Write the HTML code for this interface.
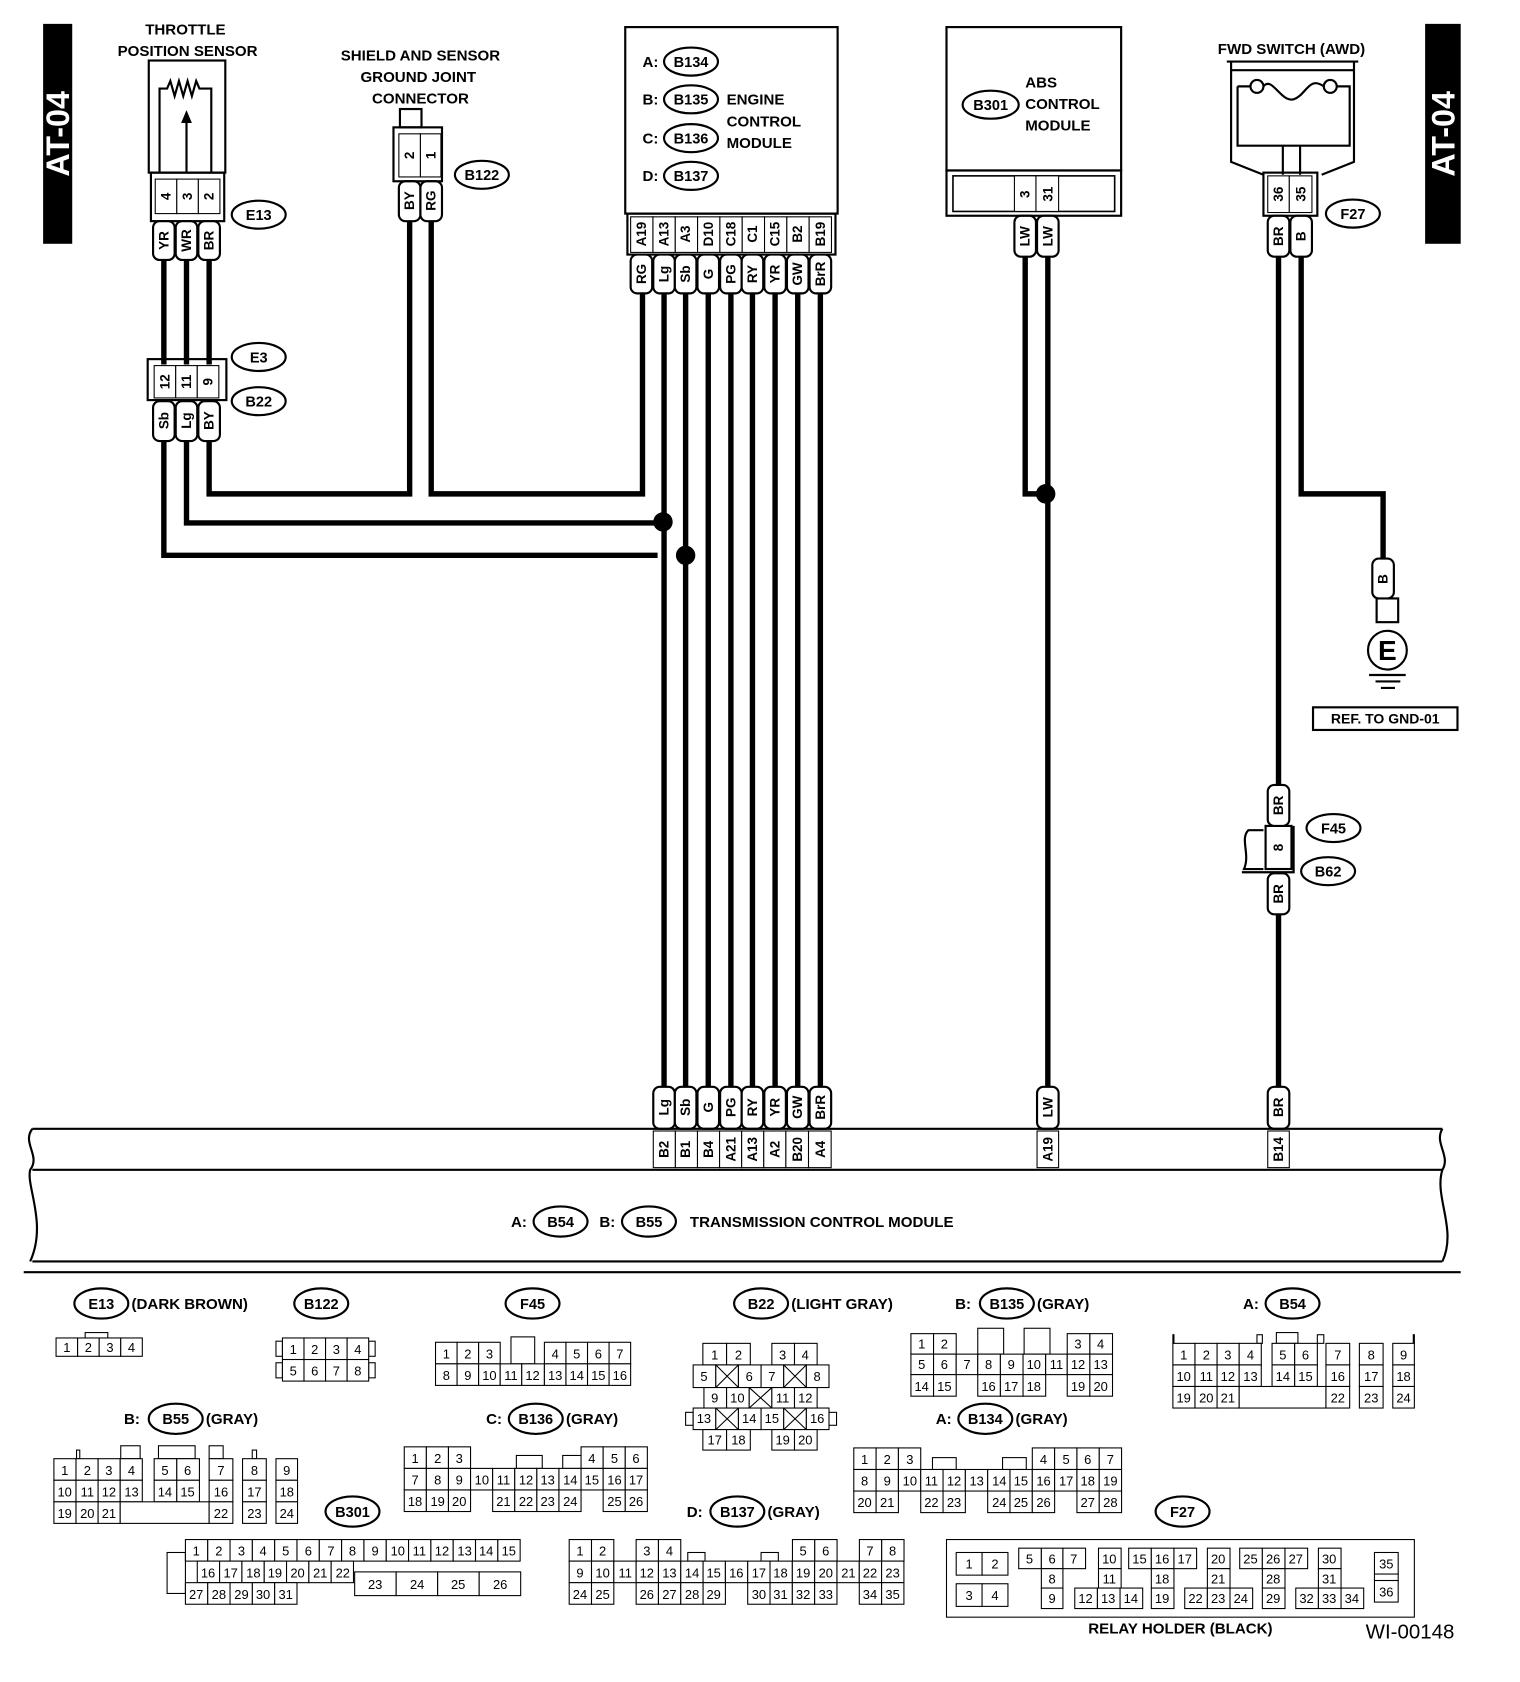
<!DOCTYPE html>
<html><head><meta charset="utf-8"><style>
html,body{margin:0;padding:0;background:#fff}
svg{display:block}
text{font-family:"Liberation Sans",sans-serif;fill:#000}
.t{font-weight:bold;font-size:14px}
.p{font-weight:bold;font-size:12.5px}
.n{font-size:12px}
.g rect{fill:#fff;stroke:#000;stroke-width:1}
.w{fill:none;stroke:#000;stroke-width:5}
.o{fill:none;stroke:#000;stroke-width:2}
.pl{fill:#fff;stroke:#000;stroke-width:2}
</style></head><body>
<svg width="1520" height="1682" viewBox="0 0 1410 1560" xmlns="http://www.w3.org/2000/svg">
<!-- side bars -->
<rect x="40" y="22" width="27" height="204" fill="#000"/>
<text transform="translate(54,124) rotate(-90)" text-anchor="middle" dominant-baseline="central" style="font-weight:bold;font-size:30px;fill:#fff">AT-04</text>
<rect x="1322" y="22" width="33" height="204" fill="#000"/>
<text transform="translate(1339,124) rotate(-90)" text-anchor="middle" dominant-baseline="central" style="font-weight:bold;font-size:30px;fill:#fff">AT-04</text>

<!-- wires -->
<g class="w">
<path d="M152,240V338M173,240V338M194,240V338"/>
<path d="M152,408V515H610M173,408V485H615M194,408V458H380V205M400,205V458H596V272"/>
<path d="M616,272V1008M636,272V1008M657,272V1008M678,272V1008M698,272V1008M719,272V1008M740,272V1008M761,272V1008"/>
<path d="M951,238V458H970M972,238V1008"/>
<path d="M1186,238V728M1186,848V1008M1207,238V458H1283V520"/>
</g>
<circle cx="615" cy="484" r="9"/><circle cx="636" cy="515" r="9"/><circle cx="970" cy="458" r="9"/>

<!-- throttle sensor -->
<text class="t" x="172" y="32" text-anchor="middle">THROTTLE</text>
<text class="t" x="174" y="52" text-anchor="middle">POSITION SENSOR</text>
<rect x="138" y="56" width="71" height="104" class="o"/>
<path class="o" d="M148,160V82H155L158,75L162,89L166,75L170,89L174,75L178,89L182,75L185,82H196V160"/>
<path class="o" d="M173,160V110"/><path d="M168,114L173,102L178,114Z"/>
<rect x="140" y="160" width="68" height="45" class="o"/>
<g class="g"><rect x="144" y="166" width="20" height="32"/><rect x="164" y="166" width="20" height="32"/><rect x="184" y="166" width="20" height="32"/></g>
<g class="p" text-anchor="middle" dominant-baseline="central">
<text transform="translate(154,182) rotate(-90)">4</text><text transform="translate(174,182) rotate(-90)">3</text><text transform="translate(194,182) rotate(-90)">2</text></g>
<!-- E3 / B22 -->
<rect x="137" y="333" width="73" height="38" class="o"/>
<g class="g"><rect x="143" y="339" width="20" height="30"/><rect x="163" y="339" width="20" height="30"/><rect x="183" y="339" width="20" height="30"/></g>
<g class="p" text-anchor="middle" dominant-baseline="central">
<text transform="translate(153,354) rotate(-90)">12</text><text transform="translate(173,354) rotate(-90)">11</text><text transform="translate(193,354) rotate(-90)">9</text></g>

<!-- B122 -->
<text class="t" x="390" y="56" text-anchor="middle">SHIELD AND SENSOR</text>
<text class="t" x="388" y="76" text-anchor="middle">GROUND JOINT</text>
<text class="t" x="390" y="96" text-anchor="middle">CONNECTOR</text>
<rect x="371" y="101" width="20" height="17" class="o"/>
<rect x="365" y="118" width="45" height="50" class="o"/>
<g class="g"><rect x="370" y="124" width="20" height="40"/><rect x="390" y="124" width="19" height="40"/></g>
<g class="p" text-anchor="middle" dominant-baseline="central">
<text transform="translate(380,144) rotate(-90)">2</text><text transform="translate(400,144) rotate(-90)">1</text></g>

<!-- ECM -->
<rect x="580" y="25" width="197" height="173" class="o"/>
<g class="t">
<text x="596" y="62">A:</text><text x="596" y="97">B:</text><text x="596" y="133">C:</text><text x="596" y="168">D:</text>
<text x="674" y="97">ENGINE</text><text x="674" y="117">CONTROL</text><text x="674" y="137">MODULE</text></g>
<rect x="582" y="198" width="193" height="38" class="o"/>
<g class="g">
<rect x="585" y="201" width="20.7" height="33"/><rect x="605.7" y="201" width="20.7" height="33"/><rect x="626.4" y="201" width="20.7" height="33"/><rect x="647.1" y="201" width="20.7" height="33"/><rect x="667.8" y="201" width="20.7" height="33"/><rect x="688.5" y="201" width="20.7" height="33"/><rect x="709.2" y="201" width="20.7" height="33"/><rect x="729.9" y="201" width="20.7" height="33"/><rect x="750.6" y="201" width="20.7" height="33"/></g>
<g class="p" text-anchor="middle" dominant-baseline="central">
<text transform="translate(595,217) rotate(-90)">A19</text><text transform="translate(616,217) rotate(-90)">A13</text><text transform="translate(636,217) rotate(-90)">A3</text><text transform="translate(657,217) rotate(-90)">D10</text><text transform="translate(678,217) rotate(-90)">C18</text><text transform="translate(698,217) rotate(-90)">C1</text><text transform="translate(719,217) rotate(-90)">C15</text><text transform="translate(740,217) rotate(-90)">B2</text><text transform="translate(761,217) rotate(-90)">B19</text></g>

<!-- ABS -->
<rect x="878" y="25" width="162" height="133" class="o"/>
<g class="t"><text x="951" y="81">ABS</text><text x="951" y="101">CONTROL</text><text x="951" y="121">MODULE</text></g>
<rect x="878" y="158" width="162" height="42" class="o"/>
<rect x="884" y="163" width="150" height="33" class="o" style="stroke-width:1.5"/>
<g class="g"><rect x="941" y="163" width="20" height="33"/><rect x="961" y="163" width="21" height="33"/></g>
<g class="p" text-anchor="middle" dominant-baseline="central">
<text transform="translate(951,180) rotate(-90)">3</text><text transform="translate(972,180) rotate(-90)">31</text></g>

<!-- FWD switch -->
<text class="t" x="1198" y="50" text-anchor="middle">FWD SWITCH (AWD)</text>
<path class="o" d="M1138,57H1260M1142,57V65H1256V57M1142,65V150L1172,162M1256,65V150L1226,162"/>
<path class="o" d="M1148,80V135H1252V80H1240M1148,80H1160M1190,135V162M1206,135V162"/>
<path class="o" d="M1172,80C1180,70 1188,95 1200,92C1212,88 1214,70 1228,80"/>
<circle cx="1166" cy="80" r="6" class="pl"/><circle cx="1234" cy="80" r="6" class="pl"/>
<rect x="1172" y="160" width="50" height="40" class="o"/>
<g class="g"><rect x="1176" y="163" width="20" height="34"/><rect x="1196" y="163" width="21" height="34"/></g>
<g class="p" text-anchor="middle" dominant-baseline="central">
<text transform="translate(1186,180) rotate(-90)">36</text><text transform="translate(1207,180) rotate(-90)">35</text></g>

<!-- ground -->
<rect x="1277" y="555" width="20" height="22" class="o"/>
<circle cx="1287" cy="603" r="18" class="pl"/>
<text x="1287" y="612" text-anchor="middle" style="font-weight:bold;font-size:26px">E</text>
<path d="M1270,626H1304M1276,632H1299M1281,638H1294" stroke="#000" stroke-width="2"/>
<rect x="1218" y="656" width="134" height="21" class="o"/>
<text class="t" x="1285" y="671" text-anchor="middle" style="font-size:13px">REF. TO GND-01</text>

<!-- F45/B62 -->
<path class="o" d="M1172,770H1158C1150,778 1160,792 1154,806H1172"/>
<path class="o" d="M1152,809H1200V766"/>
<rect x="1174" y="766" width="24" height="40" class="pl"/>
<text class="p" transform="translate(1186,786) rotate(-90)" text-anchor="middle" dominant-baseline="central">8</text>

<!-- pills -->
<g class="pl">
<rect x="142" y="205" width="20" height="36" rx="6"/><rect x="163" y="205" width="20" height="36" rx="6"/><rect x="184" y="205" width="20" height="36" rx="6"/>
<rect x="142" y="372" width="20" height="37" rx="6"/><rect x="163" y="372" width="20" height="37" rx="6"/><rect x="184" y="372" width="20" height="37" rx="6"/>
<rect x="370" y="168" width="20" height="37" rx="6"/><rect x="390" y="168" width="20" height="37" rx="6"/>
<rect x="585" y="236" width="20" height="36" rx="6"/><rect x="606" y="236" width="20" height="36" rx="6"/><rect x="626" y="236" width="20" height="36" rx="6"/><rect x="647" y="236" width="20" height="36" rx="6"/><rect x="668" y="236" width="20" height="36" rx="6"/><rect x="688" y="236" width="20" height="36" rx="6"/><rect x="709" y="236" width="20" height="36" rx="6"/><rect x="730" y="236" width="20" height="36" rx="6"/><rect x="751" y="236" width="20" height="36" rx="6"/>
<rect x="941" y="200" width="20" height="38" rx="6"/><rect x="962" y="200" width="20" height="38" rx="6"/>
<rect x="1176" y="200" width="20" height="38" rx="6"/><rect x="1197" y="200" width="20" height="38" rx="6"/>
<rect x="1273" y="518" width="20" height="37" rx="6"/>
<rect x="1176" y="728" width="20" height="38" rx="6"/><rect x="1176" y="810" width="20" height="38" rx="6"/>
<rect x="606" y="1008" width="20" height="39" rx="6"/><rect x="626" y="1008" width="20" height="39" rx="6"/><rect x="647" y="1008" width="20" height="39" rx="6"/><rect x="668" y="1008" width="20" height="39" rx="6"/><rect x="688" y="1008" width="20" height="39" rx="6"/><rect x="709" y="1008" width="20" height="39" rx="6"/><rect x="730" y="1008" width="20" height="39" rx="6"/><rect x="751" y="1008" width="20" height="39" rx="6"/>
<rect x="962" y="1008" width="20" height="39" rx="6"/><rect x="1176" y="1008" width="20" height="39" rx="6"/>
</g>
<g class="p" text-anchor="middle" dominant-baseline="central">
<text transform="translate(152,223) rotate(-90)">YR</text><text transform="translate(173,223) rotate(-90)">WR</text><text transform="translate(194,223) rotate(-90)">BR</text>
<text transform="translate(152,390) rotate(-90)">Sb</text><text transform="translate(173,390) rotate(-90)">Lg</text><text transform="translate(194,390) rotate(-90)">BY</text>
<text transform="translate(380,186) rotate(-90)">BY</text><text transform="translate(400,186) rotate(-90)">RG</text>
<text transform="translate(595,254) rotate(-90)">RG</text><text transform="translate(616,254) rotate(-90)">Lg</text><text transform="translate(636,254) rotate(-90)">Sb</text><text transform="translate(657,254) rotate(-90)">G</text><text transform="translate(678,254) rotate(-90)">PG</text><text transform="translate(698,254) rotate(-90)">RY</text><text transform="translate(719,254) rotate(-90)">YR</text><text transform="translate(740,254) rotate(-90)">GW</text><text transform="translate(761,254) rotate(-90)">BrR</text>
<text transform="translate(951,219) rotate(-90)">LW</text><text transform="translate(972,219) rotate(-90)">LW</text>
<text transform="translate(1186,219) rotate(-90)">BR</text><text transform="translate(1207,219) rotate(-90)">B</text>
<text transform="translate(1283,537) rotate(-90)">B</text>
<text transform="translate(1186,747) rotate(-90)">BR</text><text transform="translate(1186,829) rotate(-90)">BR</text>
<text transform="translate(616,1027) rotate(-90)">Lg</text><text transform="translate(636,1027) rotate(-90)">Sb</text><text transform="translate(657,1027) rotate(-90)">G</text><text transform="translate(678,1027) rotate(-90)">PG</text><text transform="translate(698,1027) rotate(-90)">RY</text><text transform="translate(719,1027) rotate(-90)">YR</text><text transform="translate(740,1027) rotate(-90)">GW</text><text transform="translate(761,1027) rotate(-90)">BrR</text>
<text transform="translate(972,1027) rotate(-90)">LW</text><text transform="translate(1186,1027) rotate(-90)">BR</text>
</g>

<!-- ellipses top -->
<g class="pl">
<ellipse cx="240" cy="199" rx="25" ry="13"/><ellipse cx="240" cy="331" rx="25" ry="13"/><ellipse cx="240" cy="372" rx="25" ry="13"/>
<ellipse cx="447" cy="162" rx="25" ry="13"/>
<ellipse cx="641" cy="57" rx="25" ry="13"/><ellipse cx="641" cy="92" rx="25" ry="13"/><ellipse cx="641" cy="128" rx="25" ry="13"/><ellipse cx="641" cy="163" rx="25" ry="13"/>
<ellipse cx="919" cy="97" rx="26" ry="13"/><ellipse cx="1255" cy="198" rx="25" ry="13"/>
<ellipse cx="1237" cy="768" rx="25" ry="13"/><ellipse cx="1232" cy="808" rx="25" ry="13"/>
<ellipse cx="520" cy="1133" rx="25" ry="14"/><ellipse cx="602" cy="1133" rx="25" ry="14"/>
</g>
<g class="p" text-anchor="middle" style="font-size:13.5px">
<text x="240" y="204">E13</text><text x="240" y="336">E3</text><text x="240" y="377">B22</text><text x="447" y="167">B122</text>
<text x="641" y="62">B134</text><text x="641" y="97">B135</text><text x="641" y="133">B136</text><text x="641" y="168">B137</text>
<text x="919" y="102">B301</text><text x="1255" y="203">F27</text><text x="1237" y="773">F45</text><text x="1232" y="813">B62</text>
<text x="520" y="1138">B54</text><text x="602" y="1138">B55</text></g>

<!-- TCM -->
<path class="o" d="M30,1047H1338M30,1085H1338M30,1170H1338"/>
<path class="o" d="M30,1047C20,1060 38,1072 28,1085C24,1100 44,1135 28,1170M1338,1047C1330,1060 1346,1072 1338,1085C1330,1110 1352,1140 1338,1170"/>
<g class="g">
<rect x="606" y="1049" width="20.5" height="34"/><rect x="626.5" y="1049" width="20.5" height="34"/><rect x="647" y="1049" width="20.5" height="34"/><rect x="667.5" y="1049" width="20.5" height="34"/><rect x="688" y="1049" width="20.5" height="34"/><rect x="708.5" y="1049" width="20.5" height="34"/><rect x="729" y="1049" width="21" height="34"/><rect x="750" y="1049" width="21" height="34"/>
<rect x="962" y="1049" width="20" height="34"/><rect x="1176" y="1049" width="20" height="34"/></g>
<g class="p" text-anchor="middle" dominant-baseline="central">
<text transform="translate(616,1066) rotate(-90)">B2</text><text transform="translate(636,1066) rotate(-90)">B1</text><text transform="translate(657,1066) rotate(-90)">B4</text><text transform="translate(678,1066) rotate(-90)">A21</text><text transform="translate(698,1066) rotate(-90)">A13</text><text transform="translate(719,1066) rotate(-90)">A2</text><text transform="translate(740,1066) rotate(-90)">B20</text><text transform="translate(761,1066) rotate(-90)">A4</text>
<text transform="translate(972,1066) rotate(-90)">A19</text><text transform="translate(1186,1066) rotate(-90)">B14</text></g>
<g class="t"><text x="474" y="1138">A:</text><text x="556" y="1138">B:</text><text x="640" y="1138">TRANSMISSION CONTROL MODULE</text></g>

<line x1="22" y1="1180" x2="1355" y2="1180" stroke="#000" stroke-width="2"/>

<!-- bottom labels -->
<g class="pl">
<ellipse cx="94" cy="1209" rx="25" ry="14"/><ellipse cx="298" cy="1209" rx="25" ry="14"/><ellipse cx="494" cy="1209" rx="25" ry="14"/><ellipse cx="706" cy="1209" rx="25" ry="14"/><ellipse cx="934" cy="1209" rx="25" ry="14"/><ellipse cx="1199" cy="1209" rx="25" ry="14"/>
<ellipse cx="163" cy="1316" rx="25" ry="14"/><ellipse cx="497" cy="1316" rx="25" ry="14"/><ellipse cx="914" cy="1316" rx="25" ry="14"/>
<ellipse cx="327" cy="1402" rx="25" ry="14"/><ellipse cx="684" cy="1402" rx="25" ry="14"/><ellipse cx="1097" cy="1402" rx="25" ry="14"/></g>
<g class="p" text-anchor="middle" style="font-size:13.5px">
<text x="94" y="1214">E13</text><text x="298" y="1214">B122</text><text x="494" y="1214">F45</text><text x="706" y="1214">B22</text><text x="934" y="1214">B135</text><text x="1199" y="1214">B54</text>
<text x="163" y="1321">B55</text><text x="497" y="1321">B136</text><text x="914" y="1321">B134</text>
<text x="327" y="1407">B301</text><text x="684" y="1407">B137</text><text x="1097" y="1407">F27</text></g>
<g class="t">
<text x="122" y="1214">(DARK BROWN)</text><text x="734" y="1214">(LIGHT GRAY)</text>
<text x="886" y="1214">B:</text><text x="962" y="1214">(GRAY)</text><text x="1153" y="1214">A:</text>
<text x="115" y="1321">B:</text><text x="191" y="1321">(GRAY)</text>
<text x="451" y="1321">C:</text><text x="525" y="1321">(GRAY)</text>
<text x="868" y="1321">A:</text><text x="942" y="1321">(GRAY)</text>
<text x="637" y="1407">D:</text><text x="712" y="1407">(GRAY)</text>
<text x="1095" y="1515" text-anchor="middle">RELAY HOLDER (BLACK)</text></g>
<text x="1308" y="1520" text-anchor="middle" style="font-size:19px">WI-00148</text>

<!-- grids -->
<g class="g">
<!-- E13 -->
<rect x="52" y="1241" width="20" height="17"/><rect x="72" y="1241" width="20" height="17"/><rect x="92" y="1241" width="20" height="17"/><rect x="112" y="1241" width="20" height="17"/><rect x="79" y="1236" width="21" height="5"/>
<!-- B122 -->
<rect x="256" y="1244" width="6" height="14"/><rect x="342" y="1244" width="6" height="14"/><rect x="256" y="1264" width="6" height="14"/><rect x="342" y="1264" width="6" height="14"/>
<rect x="262" y="1241" width="20" height="20"/><rect x="282" y="1241" width="20" height="20"/><rect x="302" y="1241" width="20" height="20"/><rect x="322" y="1241" width="20" height="20"/>
<rect x="262" y="1261" width="20" height="20"/><rect x="282" y="1261" width="20" height="20"/><rect x="302" y="1261" width="20" height="20"/><rect x="322" y="1261" width="20" height="20"/>
<!-- F45 -->
<rect x="404" y="1245" width="20" height="20"/><rect x="424" y="1245" width="20" height="20"/><rect x="444" y="1245" width="20" height="20"/><rect x="474" y="1240" width="22" height="25"/>
<rect x="505" y="1245" width="20" height="20"/><rect x="525" y="1245" width="20" height="20"/><rect x="545" y="1245" width="20" height="20"/><rect x="565" y="1245" width="20" height="20"/>
<rect x="404" y="1265" width="20" height="20"/><rect x="424" y="1265" width="20" height="20"/><rect x="444" y="1265" width="20" height="20"/><rect x="464" y="1265" width="20" height="20"/><rect x="484" y="1265" width="21" height="20"/><rect x="505" y="1265" width="20" height="20"/><rect x="525" y="1265" width="20" height="20"/><rect x="545" y="1265" width="20" height="20"/><rect x="565" y="1265" width="20" height="20"/>
<!-- B22 -->
<rect x="652" y="1246" width="22" height="20"/><rect x="674" y="1246" width="22" height="20"/><rect x="716" y="1246" width="21" height="20"/><rect x="737" y="1246" width="21" height="20"/>
<rect x="643" y="1266" width="21" height="21"/><rect x="664" y="1266" width="21" height="21"/><rect x="685" y="1266" width="21" height="21"/><rect x="706" y="1266" width="21" height="21"/><rect x="727" y="1266" width="21" height="21"/><rect x="748" y="1266" width="21" height="21"/>
<rect x="653" y="1287" width="21" height="19"/><rect x="674" y="1287" width="21" height="19"/><rect x="695" y="1287" width="21" height="19"/><rect x="716" y="1287" width="21" height="19"/><rect x="737" y="1287" width="21" height="19"/>
<rect x="636" y="1310" width="7" height="12"/><rect x="769" y="1310" width="7" height="12"/>
<rect x="643" y="1306" width="21" height="20"/><rect x="664" y="1306" width="21" height="20"/><rect x="685" y="1306" width="21" height="20"/><rect x="706" y="1306" width="21" height="20"/><rect x="727" y="1306" width="21" height="20"/><rect x="748" y="1306" width="21" height="20"/>
<rect x="652" y="1326" width="22" height="19"/><rect x="674" y="1326" width="22" height="19"/><rect x="716" y="1326" width="21" height="19"/><rect x="737" y="1326" width="21" height="19"/>
<!-- B135 -->
<rect x="845" y="1237" width="21" height="19"/><rect x="866" y="1237" width="21" height="19"/><rect x="907" y="1232" width="24" height="24"/><rect x="950" y="1232" width="24" height="24"/><rect x="990" y="1237" width="21" height="19"/><rect x="1011" y="1237" width="21" height="19"/>
<rect x="845" y="1256" width="21" height="19"/><rect x="866" y="1256" width="21" height="19"/><rect x="887" y="1256" width="20" height="19"/><rect x="907" y="1256" width="21" height="19"/><rect x="928" y="1256" width="21" height="19"/><rect x="949" y="1256" width="21" height="19"/><rect x="970" y="1256" width="20" height="19"/><rect x="990" y="1256" width="21" height="19"/><rect x="1011" y="1256" width="21" height="19"/>
<rect x="845" y="1275" width="21" height="20"/><rect x="866" y="1275" width="21" height="20"/><rect x="907" y="1275" width="21" height="20"/><rect x="928" y="1275" width="21" height="20"/><rect x="949" y="1275" width="21" height="20"/><rect x="990" y="1275" width="21" height="20"/><rect x="1011" y="1275" width="21" height="20"/>
<!-- B54 -->
<rect x="1088" y="1238" width="1" height="8"/><rect x="1166" y="1238" width="5" height="8"/><rect x="1184" y="1236" width="20" height="10"/><rect x="1222" y="1238" width="6" height="8"/><rect x="1311" y="1238" width="1" height="8"/>
<rect x="1088" y="1246" width="20.5" height="20"/><rect x="1108.5" y="1246" width="20.5" height="20"/><rect x="1129" y="1246" width="20.5" height="20"/><rect x="1149.5" y="1246" width="20.5" height="20"/><rect x="1180" y="1246" width="21" height="20"/><rect x="1201" y="1246" width="21" height="20"/><rect x="1230" y="1246" width="22" height="20"/><rect x="1261" y="1246" width="22" height="20"/><rect x="1292" y="1246" width="20" height="20"/>
<rect x="1088" y="1266" width="20.5" height="20"/><rect x="1108.5" y="1266" width="20.5" height="20"/><rect x="1129" y="1266" width="20.5" height="20"/><rect x="1149.5" y="1266" width="20.5" height="20"/><rect x="1180" y="1266" width="21" height="20"/><rect x="1201" y="1266" width="21" height="20"/><rect x="1230" y="1266" width="22" height="20"/><rect x="1261" y="1266" width="22" height="20"/><rect x="1292" y="1266" width="20" height="20"/>
<rect x="1088" y="1286" width="20.5" height="20"/><rect x="1108.5" y="1286" width="20.5" height="20"/><rect x="1129" y="1286" width="20.5" height="20"/><rect x="1149.5" y="1286" width="80.5" height="20"/><rect x="1230" y="1286" width="22" height="20"/><rect x="1261" y="1286" width="22" height="20"/><rect x="1292" y="1286" width="20" height="20"/>
<!-- B55 -->
<rect x="71" y="1345" width="3" height="8"/><rect x="112" y="1341" width="18" height="12"/><rect x="147" y="1341" width="34" height="12"/><rect x="194" y="1341" width="13" height="12"/><rect x="234" y="1345" width="4" height="8"/>
<rect x="50" y="1353" width="20.5" height="20"/><rect x="70.5" y="1353" width="20.5" height="20"/><rect x="91" y="1353" width="20.5" height="20"/><rect x="111.5" y="1353" width="20.5" height="20"/><rect x="143" y="1353" width="21" height="20"/><rect x="164" y="1353" width="21" height="20"/><rect x="194" y="1353" width="22" height="20"/><rect x="225" y="1353" width="22" height="20"/><rect x="256" y="1353" width="20" height="20"/>
<rect x="50" y="1373" width="20.5" height="20"/><rect x="70.5" y="1373" width="20.5" height="20"/><rect x="91" y="1373" width="20.5" height="20"/><rect x="111.5" y="1373" width="20.5" height="20"/><rect x="143" y="1373" width="21" height="20"/><rect x="164" y="1373" width="21" height="20"/><rect x="194" y="1373" width="22" height="20"/><rect x="225" y="1373" width="22" height="20"/><rect x="256" y="1373" width="20" height="20"/>
<rect x="50" y="1393" width="20.5" height="20"/><rect x="70.5" y="1393" width="20.5" height="20"/><rect x="91" y="1393" width="20.5" height="20"/><rect x="111.5" y="1393" width="82.5" height="20"/><rect x="194" y="1393" width="22" height="20"/><rect x="225" y="1393" width="22" height="20"/><rect x="256" y="1393" width="20" height="20"/>
<!-- B136 -->
<rect x="375" y="1342" width="20.5" height="20"/><rect x="395.5" y="1342" width="20.5" height="20"/><rect x="416" y="1342" width="20.5" height="20"/><rect x="479" y="1350" width="24" height="12"/><rect x="522" y="1350" width="24" height="12"/><rect x="539" y="1342" width="20.5" height="20"/><rect x="559.5" y="1342" width="20.5" height="20"/><rect x="580" y="1342" width="20.5" height="20"/>
<rect x="375" y="1362" width="20.5" height="20"/><rect x="395.5" y="1362" width="20.5" height="20"/><rect x="416" y="1362" width="20.5" height="20"/><rect x="436.5" y="1362" width="20.5" height="20"/><rect x="457" y="1362" width="20.5" height="20"/><rect x="477.5" y="1362" width="20.5" height="20"/><rect x="498" y="1362" width="20.5" height="20"/><rect x="518.5" y="1362" width="20.5" height="20"/><rect x="539" y="1362" width="20.5" height="20"/><rect x="559.5" y="1362" width="20.5" height="20"/><rect x="580" y="1362" width="20.5" height="20"/>
<rect x="375" y="1382" width="20.5" height="20"/><rect x="395.5" y="1382" width="20.5" height="20"/><rect x="416" y="1382" width="20.5" height="20"/><rect x="457" y="1382" width="20.5" height="20"/><rect x="477.5" y="1382" width="20.5" height="20"/><rect x="498" y="1382" width="20.5" height="20"/><rect x="518.5" y="1382" width="20.5" height="20"/><rect x="559.5" y="1382" width="20.5" height="20"/><rect x="580" y="1382" width="20.5" height="20"/>
<!-- B134 -->
<rect x="792" y="1343" width="20.7" height="20"/><rect x="812.7" y="1343" width="20.7" height="20"/><rect x="833.4" y="1343" width="20.7" height="20"/><rect x="865" y="1352" width="22" height="11"/><rect x="930" y="1352" width="22" height="11"/><rect x="957.6" y="1343" width="20.7" height="20"/><rect x="978.3" y="1343" width="20.7" height="20"/><rect x="999" y="1343" width="20.7" height="20"/><rect x="1019.7" y="1343" width="20.7" height="20"/>
<rect x="792" y="1363" width="20.7" height="20"/><rect x="812.7" y="1363" width="20.7" height="20"/><rect x="833.4" y="1363" width="20.7" height="20"/><rect x="854.1" y="1363" width="20.7" height="20"/><rect x="874.8" y="1363" width="20.7" height="20"/><rect x="895.5" y="1363" width="20.7" height="20"/><rect x="916.2" y="1363" width="20.7" height="20"/><rect x="936.9" y="1363" width="20.7" height="20"/><rect x="957.6" y="1363" width="20.7" height="20"/><rect x="978.3" y="1363" width="20.7" height="20"/><rect x="999" y="1363" width="20.7" height="20"/><rect x="1019.7" y="1363" width="20.7" height="20"/>
<rect x="792" y="1383" width="20.7" height="20"/><rect x="812.7" y="1383" width="20.7" height="20"/><rect x="854.1" y="1383" width="20.7" height="20"/><rect x="874.8" y="1383" width="20.7" height="20"/><rect x="916.2" y="1383" width="20.7" height="20"/><rect x="936.9" y="1383" width="20.7" height="20"/><rect x="957.6" y="1383" width="20.7" height="20"/><rect x="999" y="1383" width="20.7" height="20"/><rect x="1019.7" y="1383" width="20.7" height="20"/>
<!-- B301 -->
<rect x="155" y="1440" width="17" height="38"/>
<rect x="172" y="1428" width="20.7" height="20"/><rect x="192.7" y="1428" width="20.7" height="20"/><rect x="213.4" y="1428" width="20.7" height="20"/><rect x="234.1" y="1428" width="20.7" height="20"/><rect x="254.8" y="1428" width="20.7" height="20"/><rect x="275.5" y="1428" width="20.7" height="20"/><rect x="296.2" y="1428" width="20.7" height="20"/><rect x="316.9" y="1428" width="20.7" height="20"/><rect x="337.6" y="1428" width="20.7" height="20"/><rect x="358.3" y="1428" width="20.7" height="20"/><rect x="379" y="1428" width="20.7" height="20"/><rect x="399.7" y="1428" width="20.7" height="20"/><rect x="420.4" y="1428" width="20.7" height="20"/><rect x="441.1" y="1428" width="20.7" height="20"/><rect x="461.8" y="1428" width="20.7" height="20"/>
<rect x="183" y="1448" width="20.7" height="20"/><rect x="203.7" y="1448" width="20.7" height="20"/><rect x="224.4" y="1448" width="20.7" height="20"/><rect x="245.1" y="1448" width="20.7" height="20"/><rect x="265.8" y="1448" width="20.7" height="20"/><rect x="286.5" y="1448" width="20.7" height="20"/><rect x="307.2" y="1448" width="20.7" height="20"/>
<rect x="329" y="1458" width="38.5" height="22"/><rect x="367.5" y="1458" width="38.5" height="22"/><rect x="406" y="1458" width="38.5" height="22"/><rect x="444.5" y="1458" width="38.5" height="22"/>
<rect x="172" y="1468" width="20.7" height="20"/><rect x="192.7" y="1468" width="20.7" height="20"/><rect x="213.4" y="1468" width="20.7" height="20"/><rect x="234.1" y="1468" width="20.7" height="20"/><rect x="254.8" y="1468" width="20.7" height="20"/>
<!-- B137 -->
<rect x="528" y="1428" width="20.7" height="20"/><rect x="548.7" y="1428" width="20.7" height="20"/><rect x="590.1" y="1428" width="20.7" height="20"/><rect x="610.8" y="1428" width="20.7" height="20"/><rect x="638" y="1440" width="16" height="8"/><rect x="706" y="1440" width="16" height="8"/><rect x="735.1" y="1428" width="20.7" height="20"/><rect x="755.8" y="1428" width="20.7" height="20"/><rect x="797.2" y="1428" width="20.7" height="20"/><rect x="817.9" y="1428" width="20.7" height="20"/>
<rect x="528" y="1448" width="20.7" height="20"/><rect x="548.7" y="1448" width="20.7" height="20"/><rect x="569.4" y="1448" width="20.7" height="20"/><rect x="590.1" y="1448" width="20.7" height="20"/><rect x="610.8" y="1448" width="20.7" height="20"/><rect x="631.5" y="1448" width="20.7" height="20"/><rect x="652.2" y="1448" width="20.7" height="20"/><rect x="672.9" y="1448" width="20.7" height="20"/><rect x="693.6" y="1448" width="20.7" height="20"/><rect x="714.3" y="1448" width="20.7" height="20"/><rect x="735" y="1448" width="20.7" height="20"/><rect x="755.7" y="1448" width="20.7" height="20"/><rect x="776.4" y="1448" width="20.7" height="20"/><rect x="797.1" y="1448" width="20.7" height="20"/><rect x="817.8" y="1448" width="20.7" height="20"/>
<rect x="528" y="1468" width="20.7" height="20"/><rect x="548.7" y="1468" width="20.7" height="20"/><rect x="590.1" y="1468" width="20.7" height="20"/><rect x="610.8" y="1468" width="20.7" height="20"/><rect x="631.5" y="1468" width="20.7" height="20"/><rect x="652.2" y="1468" width="20.7" height="20"/><rect x="693.6" y="1468" width="20.7" height="20"/><rect x="714.3" y="1468" width="20.7" height="20"/><rect x="735" y="1468" width="20.7" height="20"/><rect x="755.7" y="1468" width="20.7" height="20"/><rect x="797.1" y="1468" width="20.7" height="20"/><rect x="817.8" y="1468" width="20.7" height="20"/>
<!-- F27 -->
<rect x="878" y="1428" width="434" height="72"/>
<rect x="887" y="1440" width="24" height="21"/><rect x="911" y="1440" width="24" height="21"/><rect x="887" y="1469" width="24" height="21"/><rect x="911" y="1469" width="24" height="21"/>
<rect x="945" y="1436" width="21" height="19"/><rect x="966" y="1436" width="20" height="19"/><rect x="986" y="1436" width="21" height="19"/><rect x="966" y="1455" width="20" height="18"/><rect x="966" y="1473" width="20" height="19"/>
<rect x="1019" y="1436" width="21" height="19"/><rect x="1019" y="1455" width="21" height="18"/><rect x="997" y="1473" width="21" height="19"/><rect x="1018" y="1473" width="21" height="19"/><rect x="1039" y="1473" width="21" height="19"/>
<rect x="1047" y="1436" width="21" height="19"/><rect x="1068" y="1436" width="21" height="19"/><rect x="1089" y="1436" width="21" height="19"/><rect x="1068" y="1455" width="21" height="18"/><rect x="1068" y="1473" width="21" height="19"/>
<rect x="1120" y="1436" width="21" height="19"/><rect x="1120" y="1455" width="21" height="18"/><rect x="1099" y="1473" width="21" height="19"/><rect x="1120" y="1473" width="21" height="19"/><rect x="1141" y="1473" width="21" height="19"/>
<rect x="1150" y="1436" width="21" height="19"/><rect x="1171" y="1436" width="21" height="19"/><rect x="1192" y="1436" width="21" height="19"/><rect x="1171" y="1455" width="21" height="18"/><rect x="1171" y="1473" width="21" height="19"/>
<rect x="1223" y="1436" width="21" height="19"/><rect x="1223" y="1455" width="21" height="18"/><rect x="1202" y="1473" width="21" height="19"/><rect x="1223" y="1473" width="21" height="19"/><rect x="1244" y="1473" width="21" height="19"/>
<rect x="1275" y="1440" width="22" height="20"/><rect x="1275" y="1460" width="22" height="6"/><rect x="1275" y="1466" width="22" height="20"/>
</g>
<!-- B22 crosses -->
<path d="M664,1266L685,1287M685,1266L664,1287M727,1266L748,1287M748,1266L727,1287M695,1287L716,1306M716,1287L695,1306M664,1306L685,1326M685,1306L664,1326M727,1306L748,1326M748,1306L727,1326" stroke="#000" stroke-width="1"/>

<g class="n" text-anchor="middle">
<!-- E13 -->
<text x="62" y="1254">1</text><text x="82" y="1254">2</text><text x="102" y="1254">3</text><text x="122" y="1254">4</text>
<!-- B122 -->
<text x="272" y="1256">1</text><text x="292" y="1256">2</text><text x="312" y="1256">3</text><text x="332" y="1256">4</text>
<text x="272" y="1276">5</text><text x="292" y="1276">6</text><text x="312" y="1276">7</text><text x="332" y="1276">8</text>
<!-- F45 -->
<text x="414" y="1260">1</text><text x="434" y="1260">2</text><text x="454" y="1260">3</text><text x="515" y="1260">4</text><text x="535" y="1260">5</text><text x="555" y="1260">6</text><text x="575" y="1260">7</text>
<text x="414" y="1280">8</text><text x="434" y="1280">9</text><text x="454" y="1280">10</text><text x="474" y="1280">11</text><text x="494" y="1280">12</text><text x="515" y="1280">13</text><text x="535" y="1280">14</text><text x="555" y="1280">15</text><text x="575" y="1280">16</text>
<!-- B22 -->
<text x="663" y="1261">1</text><text x="685" y="1261">2</text><text x="726" y="1261">3</text><text x="747" y="1261">4</text>
<text x="653" y="1281">5</text><text x="695" y="1281">6</text><text x="716" y="1281">7</text><text x="758" y="1281">8</text>
<text x="663" y="1301">9</text><text x="684" y="1301">10</text><text x="726" y="1301">11</text><text x="747" y="1301">12</text>
<text x="653" y="1320">13</text><text x="695" y="1320">14</text><text x="716" y="1320">15</text><text x="758" y="1320">16</text>
<text x="663" y="1340">17</text><text x="685" y="1340">18</text><text x="726" y="1340">19</text><text x="747" y="1340">20</text>
<!-- B135 -->
<text x="855" y="1251">1</text><text x="876" y="1251">2</text><text x="1000" y="1251">3</text><text x="1021" y="1251">4</text>
<text x="855" y="1270">5</text><text x="876" y="1270">6</text><text x="897" y="1270">7</text><text x="917" y="1270">8</text><text x="938" y="1270">9</text><text x="959" y="1270">10</text><text x="980" y="1270">11</text><text x="1000" y="1270">12</text><text x="1021" y="1270">13</text>
<text x="855" y="1290">14</text><text x="876" y="1290">15</text><text x="917" y="1290">16</text><text x="938" y="1290">17</text><text x="959" y="1290">18</text><text x="1000" y="1290">19</text><text x="1021" y="1290">20</text>
<!-- B54 -->
<text x="1098" y="1261">1</text><text x="1119" y="1261">2</text><text x="1139" y="1261">3</text><text x="1160" y="1261">4</text><text x="1190" y="1261">5</text><text x="1211" y="1261">6</text><text x="1241" y="1261">7</text><text x="1272" y="1261">8</text><text x="1302" y="1261">9</text>
<text x="1098" y="1281">10</text><text x="1119" y="1281">11</text><text x="1139" y="1281">12</text><text x="1160" y="1281">13</text><text x="1190" y="1281">14</text><text x="1211" y="1281">15</text><text x="1241" y="1281">16</text><text x="1272" y="1281">17</text><text x="1302" y="1281">18</text>
<text x="1098" y="1301">19</text><text x="1119" y="1301">20</text><text x="1139" y="1301">21</text><text x="1241" y="1301">22</text><text x="1272" y="1301">23</text><text x="1302" y="1301">24</text>
<!-- B55 -->
<text x="60" y="1368">1</text><text x="81" y="1368">2</text><text x="101" y="1368">3</text><text x="122" y="1368">4</text><text x="153" y="1368">5</text><text x="174" y="1368">6</text><text x="205" y="1368">7</text><text x="236" y="1368">8</text><text x="266" y="1368">9</text>
<text x="60" y="1388">10</text><text x="81" y="1388">11</text><text x="101" y="1388">12</text><text x="122" y="1388">13</text><text x="153" y="1388">14</text><text x="174" y="1388">15</text><text x="205" y="1388">16</text><text x="236" y="1388">17</text><text x="266" y="1388">18</text>
<text x="60" y="1408">19</text><text x="81" y="1408">20</text><text x="101" y="1408">21</text><text x="205" y="1408">22</text><text x="236" y="1408">23</text><text x="266" y="1408">24</text>
<!-- B136 -->
<text x="385" y="1357">1</text><text x="406" y="1357">2</text><text x="426" y="1357">3</text><text x="549" y="1357">4</text><text x="570" y="1357">5</text><text x="590" y="1357">6</text>
<text x="385" y="1377">7</text><text x="406" y="1377">8</text><text x="426" y="1377">9</text><text x="447" y="1377">10</text><text x="467" y="1377">11</text><text x="488" y="1377">12</text><text x="508" y="1377">13</text><text x="529" y="1377">14</text><text x="549" y="1377">15</text><text x="570" y="1377">16</text><text x="590" y="1377">17</text>
<text x="385" y="1397">18</text><text x="406" y="1397">19</text><text x="426" y="1397">20</text><text x="467" y="1397">21</text><text x="488" y="1397">22</text><text x="508" y="1397">23</text><text x="529" y="1397">24</text><text x="570" y="1397">25</text><text x="590" y="1397">26</text>
<!-- B134 -->
<text x="802" y="1358">1</text><text x="823" y="1358">2</text><text x="844" y="1358">3</text><text x="968" y="1358">4</text><text x="989" y="1358">5</text><text x="1009" y="1358">6</text><text x="1030" y="1358">7</text>
<text x="802" y="1378">8</text><text x="823" y="1378">9</text><text x="844" y="1378">10</text><text x="864" y="1378">11</text><text x="885" y="1378">12</text><text x="906" y="1378">13</text><text x="927" y="1378">14</text><text x="947" y="1378">15</text><text x="968" y="1378">16</text><text x="989" y="1378">17</text><text x="1009" y="1378">18</text><text x="1030" y="1378">19</text>
<text x="802" y="1398">20</text><text x="823" y="1398">21</text><text x="864" y="1398">22</text><text x="885" y="1398">23</text><text x="927" y="1398">24</text><text x="947" y="1398">25</text><text x="968" y="1398">26</text><text x="1009" y="1398">27</text><text x="1030" y="1398">28</text>
<!-- B301 -->
<text x="182" y="1443">1</text><text x="203" y="1443">2</text><text x="224" y="1443">3</text><text x="244" y="1443">4</text><text x="265" y="1443">5</text><text x="286" y="1443">6</text><text x="307" y="1443">7</text><text x="327" y="1443">8</text><text x="348" y="1443">9</text><text x="369" y="1443">10</text><text x="389" y="1443">11</text><text x="410" y="1443">12</text><text x="431" y="1443">13</text><text x="451" y="1443">14</text><text x="472" y="1443">15</text>
<text x="193" y="1463">16</text><text x="214" y="1463">17</text><text x="235" y="1463">18</text><text x="255" y="1463">19</text><text x="276" y="1463">20</text><text x="297" y="1463">21</text><text x="318" y="1463">22</text>
<text x="348" y="1474">23</text><text x="387" y="1474">24</text><text x="425" y="1474">25</text><text x="464" y="1474">26</text>
<text x="182" y="1483">27</text><text x="203" y="1483">28</text><text x="224" y="1483">29</text><text x="244" y="1483">30</text><text x="265" y="1483">31</text>
<!-- B137 -->
<text x="538" y="1443">1</text><text x="559" y="1443">2</text><text x="600" y="1443">3</text><text x="621" y="1443">4</text><text x="745" y="1443">5</text><text x="766" y="1443">6</text><text x="807" y="1443">7</text><text x="828" y="1443">8</text>
<text x="538" y="1463">9</text><text x="559" y="1463">10</text><text x="580" y="1463">11</text><text x="600" y="1463">12</text><text x="621" y="1463">13</text><text x="642" y="1463">14</text><text x="662" y="1463">15</text><text x="683" y="1463">16</text><text x="704" y="1463">17</text><text x="724" y="1463">18</text><text x="745" y="1463">19</text><text x="766" y="1463">20</text><text x="787" y="1463">21</text><text x="807" y="1463">22</text><text x="828" y="1463">23</text>
<text x="538" y="1483">24</text><text x="559" y="1483">25</text><text x="600" y="1483">26</text><text x="621" y="1483">27</text><text x="642" y="1483">28</text><text x="662" y="1483">29</text><text x="704" y="1483">30</text><text x="724" y="1483">31</text><text x="745" y="1483">32</text><text x="766" y="1483">33</text><text x="807" y="1483">34</text><text x="828" y="1483">35</text>
<!-- F27 -->
<text x="899" y="1455">1</text><text x="923" y="1455">2</text><text x="899" y="1484">3</text><text x="923" y="1484">4</text>
<text x="955" y="1450">5</text><text x="976" y="1450">6</text><text x="996" y="1450">7</text><text x="976" y="1469">8</text><text x="976" y="1487">9</text>
<text x="1029" y="1450">10</text><text x="1029" y="1469">11</text><text x="1007" y="1487">12</text><text x="1028" y="1487">13</text><text x="1049" y="1487">14</text>
<text x="1057" y="1450">15</text><text x="1078" y="1450">16</text><text x="1099" y="1450">17</text><text x="1078" y="1469">18</text><text x="1078" y="1487">19</text>
<text x="1130" y="1450">20</text><text x="1130" y="1469">21</text><text x="1109" y="1487">22</text><text x="1130" y="1487">23</text><text x="1151" y="1487">24</text>
<text x="1160" y="1450">25</text><text x="1181" y="1450">26</text><text x="1202" y="1450">27</text><text x="1181" y="1469">28</text><text x="1181" y="1487">29</text>
<text x="1233" y="1450">30</text><text x="1233" y="1469">31</text><text x="1212" y="1487">32</text><text x="1233" y="1487">33</text><text x="1254" y="1487">34</text>
<text x="1286" y="1455">35</text><text x="1286" y="1481">36</text>
</g>
</svg>
</body></html>
